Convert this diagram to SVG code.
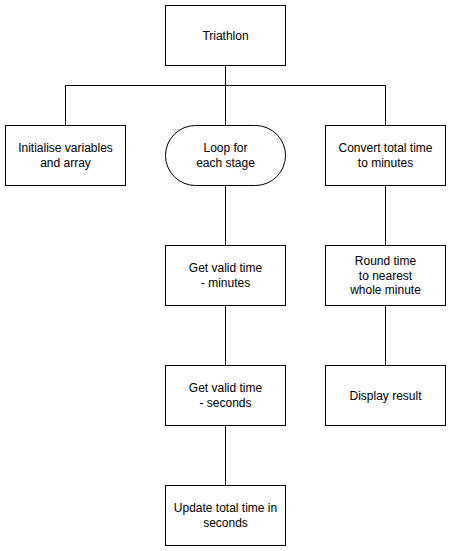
<svg xmlns="http://www.w3.org/2000/svg" width="451" height="551" viewBox="0 0 451 551">
<style>
.n{fill:#fff;stroke:#000;stroke-width:1}
.t{font-family:"Liberation Sans",Arial,sans-serif;font-size:12px;fill:#000;text-anchor:middle}
.c{fill:none;stroke:#000;stroke-width:1}
</style>
<rect width="451" height="551" fill="#fff"/>
<g id="connectors">
<path class="c" d="M225.5 65.5V85.5M65.5 125.5V85.5H385.5V125.5M225.5 85.5V125.5"/>
<path class="c" d="M225.5 185.5V245.5"/>
<path class="c" d="M225.5 305.5V365.5"/>
<path class="c" d="M225.5 425.5V485.5"/>
<path class="c" d="M385.5 185.5V245.5"/>
<path class="c" d="M385.5 305.5V365.5"/>
</g>
<g id="triathlon">
<rect class="n" x="165.5" y="5.5" width="120" height="60"/>
<text class="t" x="225.5" y="39.8">Triathlon</text>
</g>
<g id="initialise">
<rect class="n" x="5.5" y="125.5" width="120" height="60"/>
<text class="t" x="65.5" y="152.4">Initialise variables</text>
<text class="t" x="65.5" y="166.8">and array</text>
</g>
<g id="loop">
<rect class="n" x="165.5" y="125.5" width="120" height="60" rx="30" ry="30"/>
<text class="t" x="225.5" y="152.4">Loop for</text>
<text class="t" x="225.5" y="166.8">each stage</text>
</g>
<g id="convert">
<rect class="n" x="325.5" y="125.5" width="120" height="60"/>
<text class="t" x="385.5" y="152.4">Convert total time</text>
<text class="t" x="385.5" y="166.8">to minutes</text>
</g>
<g id="getminutes">
<rect class="n" x="165.5" y="245.5" width="120" height="60"/>
<text class="t" x="225.5" y="272.4">Get valid time</text>
<text class="t" x="225.5" y="286.8">- minutes</text>
</g>
<g id="round">
<rect class="n" x="325.5" y="245.5" width="120" height="60"/>
<text class="t" x="385.5" y="265.2">Round time</text>
<text class="t" x="385.5" y="279.6">to nearest</text>
<text class="t" x="385.5" y="294">whole minute</text>
</g>
<g id="getseconds">
<rect class="n" x="165.5" y="365.5" width="120" height="60"/>
<text class="t" x="225.5" y="392.4">Get valid time</text>
<text class="t" x="225.5" y="406.8">- seconds</text>
</g>
<g id="display">
<rect class="n" x="325.5" y="365.5" width="120" height="60"/>
<text class="t" x="385.5" y="399.8">Display result</text>
</g>
<g id="update">
<rect class="n" x="165.5" y="485.5" width="120" height="60"/>
<text class="t" x="225.5" y="512.4">Update total time in</text>
<text class="t" x="225.5" y="526.8">seconds</text>
</g>
</svg>
